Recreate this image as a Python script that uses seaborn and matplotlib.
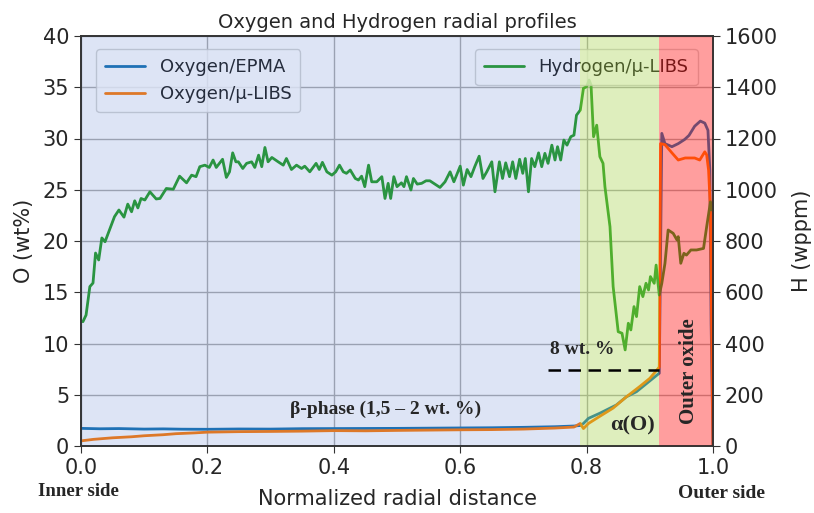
import matplotlib
matplotlib.use("Agg")
import matplotlib.pyplot as plt
import seaborn as sns
import numpy as np

# ---------------- data ----------------
epma_x = [0.0, 0.03, 0.06, 0.1, 0.13, 0.16, 0.2, 0.25, 0.3, 0.35, 0.4, 0.45, 0.5,
          0.55, 0.6, 0.65, 0.7, 0.75, 0.78, 0.79, 0.795, 0.803, 0.821, 0.847, 0.863,
          0.879, 0.895, 0.915, 0.919, 0.924, 0.935, 0.945, 0.955, 0.962, 0.971,
          0.98, 0.987, 0.992, 0.995, 0.997, 1.0]
epma_o = [1.72, 1.68, 1.70, 1.65, 1.67, 1.64, 1.63, 1.66, 1.65, 1.69, 1.70, 1.71, 1.72,
          1.74, 1.76, 1.78, 1.82, 1.88, 1.95, 2.0, 2.2, 2.7, 3.2, 4.0, 4.8,
          5.3, 6.1, 7.1, 30.5, 29.5, 29.2, 29.5, 29.9, 30.3, 31.2,
          31.7, 31.5, 30.8, 26.9, 12.0, 0.0]

libs_x = [0.0, 0.02, 0.05, 0.08, 0.1, 0.13, 0.15, 0.18, 0.2, 0.25, 0.3, 0.35, 0.4,
          0.45, 0.5, 0.55, 0.6, 0.65, 0.7, 0.75, 0.78, 0.79, 0.795, 0.803, 0.821,
          0.842, 0.863, 0.884, 0.9, 0.911, 0.915, 0.917, 0.924, 0.935, 0.945,
          0.956, 0.971, 0.979, 0.987, 0.99, 0.993, 0.996, 0.999, 1.0]
libs_o = [0.5, 0.65, 0.8, 0.9, 1.0, 1.1, 1.2, 1.28, 1.35, 1.4, 1.42, 1.45, 1.5,
          1.48, 1.52, 1.55, 1.58, 1.6, 1.65, 1.75, 1.85, 2.2, 1.7, 2.2, 2.9,
          3.7, 4.8, 5.8, 6.6, 7.4, 7.7, 29.5, 29.4, 28.6, 27.9,
          28.1, 28.1, 27.9, 28.7, 28.4, 26.9, 23.0, 5.0, 0.0]

h_x = [0.003, 0.008, 0.014, 0.019, 0.023, 0.028, 0.033, 0.038, 0.045, 0.053, 0.060,
       0.068, 0.074, 0.080, 0.085, 0.090, 0.095, 0.101, 0.109, 0.119, 0.125, 0.135,
       0.146, 0.156, 0.167, 0.175, 0.182, 0.188, 0.196, 0.203, 0.209, 0.214, 0.224,
       0.230, 0.235, 0.240, 0.245, 0.249, 0.256, 0.262, 0.270, 0.275, 0.281, 0.286,
       0.291, 0.296, 0.302, 0.312, 0.320, 0.325, 0.333, 0.341, 0.349, 0.354, 0.362,
       0.372, 0.377, 0.382, 0.389, 0.397, 0.403, 0.409, 0.415, 0.420, 0.426, 0.434,
       0.439, 0.444, 0.449, 0.455, 0.460, 0.468, 0.476, 0.481, 0.486, 0.490, 0.495,
       0.500, 0.507, 0.511, 0.515, 0.522, 0.526, 0.532, 0.539, 0.546, 0.552, 0.560,
       0.568, 0.576, 0.584, 0.590, 0.600, 0.605, 0.611, 0.617, 0.623, 0.630, 0.636,
       0.642, 0.650, 0.655, 0.662, 0.667, 0.672, 0.678, 0.683, 0.688, 0.694, 0.699,
       0.703, 0.708, 0.713, 0.718, 0.724, 0.729, 0.734, 0.739, 0.745, 0.750, 0.754,
       0.759, 0.764, 0.769, 0.775, 0.780, 0.784, 0.790, 0.795, 0.800, 0.804, 0.807,
       0.811, 0.816, 0.821, 0.826, 0.829, 0.837, 0.842, 0.850, 0.856, 0.861, 0.866,
       0.870, 0.875, 0.879, 0.884, 0.889, 0.894, 0.898, 0.901, 0.907, 0.910, 0.915,
       0.919, 0.924, 0.929, 0.937, 0.943, 0.945, 0.949, 0.954, 0.958, 0.965, 0.974,
       0.985, 0.990, 0.996, 0.998]
h_wppm = [485, 511, 622, 636, 753, 726, 812, 797, 843, 895, 921,
          893, 944, 914, 957, 929, 966, 960, 992, 964, 966, 1005,
          1002, 1053, 1027, 1057, 1051, 1090, 1096, 1087, 1116, 1087, 1119,
          1048, 1070, 1144, 1109, 1109, 1083, 1103, 1109, 1087, 1135, 1090,
          1165, 1109, 1126, 1109, 1096, 1122, 1079, 1096, 1083, 1092, 1070,
          1103, 1079, 1107, 1070, 1057, 1070, 1096, 1070, 1064, 1077, 1044,
          1038, 1053, 1012, 1096, 1031, 1031, 1051, 966, 1025, 966, 1051,
          1012, 1027, 1012, 1051, 999, 1044, 1022, 1025, 1035, 1035, 1022,
          1009, 1031, 1070, 1031, 1092, 1018, 1079, 1051, 1090, 1131, 1044,
          1070, 1109, 992, 1109, 1044, 1105, 1051, 1109, 1044, 1119, 1064,
          1122, 992, 1122, 1090, 1144, 1090, 1142, 1103, 1174, 1116, 1168,
          1116, 1194, 1174, 1207, 1213, 1291, 1311, 1396, 1402, 1428, 1409,
          1207, 1252, 1129, 1103, 1012, 856, 622, 446, 440, 375, 479,
          453, 544, 505, 622, 583, 635, 609, 661, 635, 706, 589,
          635, 713, 843, 830, 804, 817, 713, 752, 745, 765, 765,
          771, 856, 953, 921]

o_ticks = [0, 5, 10, 15, 20, 25, 30, 35, 40]
h_ticks = [0, 200, 400, 600, 800, 1000, 1200, 1400, 1600]
x_ticks = [0.0, 0.2, 0.4, 0.6, 0.8, 1.0]

# ---------------- figure ----------------
sns.set_style("ticks")
plt.rcParams['font.family'] = ['DejaVu Sans']

fig = plt.figure(figsize=(8.14, 5.13), dpi=100)
ax = fig.add_axes([81/814, 1-446/513, (713-81)/814, (446-36)/513])
ax2 = ax.twinx()

sns.lineplot(x=epma_x, y=epma_o, ax=ax, color='#1f77b4', lw=2, label='Oxygen/EPMA',
             estimator=None, sort=False)
sns.lineplot(x=libs_x, y=libs_o, ax=ax, color='#ff7f0e', lw=2, label='Oxygen/μ-LIBS',
             estimator=None, sort=False)
sns.lineplot(x=h_x, y=h_wppm, ax=ax2, color='#2ca02c', lw=2, label='Hydrogen/μ-LIBS',
             estimator=None, sort=False)

ax.set_xlim(0, 1)
ax.set_ylim(0, 40)
ax2.set_ylim(0, 1600)
ax.set_xticks(x_ticks)
ax.set_yticks(o_ticks)
ax2.set_yticks(h_ticks)
ax.grid(True, color='#b0b0b0', lw=1)
ax.tick_params(labelsize=15, length=5, color='#333333')
ax2.tick_params(labelsize=15, length=5, color='#333333')
for a in (ax, ax2):
    for s in a.spines.values():
        s.set_color('#333333')
        s.set_linewidth(1.2)

ax.set_title('Oxygen and Hydrogen radial profiles', fontsize=14, pad=6)
ax.set_ylabel('O (wt%)', fontsize=15, labelpad=6)
ax2.set_ylabel('H (wppm)', fontsize=15, labelpad=10)
ax.set_xlabel('Normalized radial distance', fontsize=15, labelpad=8)

leg1 = ax.legend(loc='upper left', fontsize=13, handlelength=2.2, borderpad=0.5,
                 bbox_to_anchor=(0.01, 0.99))
leg2 = ax2.legend(loc='upper right', fontsize=13, handlelength=2.2, borderpad=0.5,
                  bbox_to_anchor=(0.99, 0.99))
leg2.set_zorder(2.2)

# phase region shading (over the curves)
ax2.axvspan(0.0, 0.79, color='#2050c0', alpha=0.15, lw=0, zorder=2.5)
ax2.axvspan(0.79, 0.915, color='#9acd32', alpha=0.32, lw=0, zorder=2.5)
ax2.axvspan(0.915, 1.0, color='#ff0000', alpha=0.38, lw=0, zorder=2.5)

# annotations
serif = ['Liberation Serif', 'DejaVu Serif']
ax2.plot([0.739, 0.915], [296, 296], ls=(0, (5, 3)), color='black', lw=1.8, zorder=4)
ax2.text(0.742, 343, '8 wt. %', fontsize=14, fontweight='bold', family=serif,
         ha='left', va='bottom', zorder=5)
ax2.text(0.482, 142, 'β-phase (1,5 – 2 wt. %)', fontsize=14, fontweight='bold',
         family=serif, ha='center', va='center', zorder=5)
ax2.text(0.872, 80, 'α(O)', fontsize=16, fontweight='bold', family=serif,
         ha='center', va='center', zorder=5)
ax2.text(0.962, 293, 'Outer oxide', fontsize=15, fontweight='bold', family=serif,
         rotation=90, ha='center', va='center', zorder=5)
fig.text(78/814, 1-492/513, 'Inner side', fontsize=13.5, fontweight='bold', family=serif,
         ha='center', va='center')
fig.text(721/814, 1-493/513, 'Outer side', fontsize=14, fontweight='bold', family=serif,
         ha='center', va='center')

fig.savefig('out.png', dpi=100)
